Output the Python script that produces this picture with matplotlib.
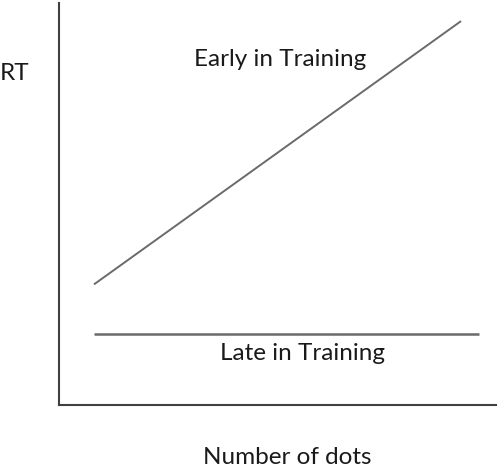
import matplotlib
matplotlib.use("Agg")
import matplotlib.pyplot as plt

# Data (arbitrary units)
early_dots = [0.8, 9.2]
early_rt = [3.0, 9.55]
late_dots = [0.8, 9.6]
late_rt = [1.77, 1.77]

W, H = 500, 470
fig = plt.figure(figsize=(W / 100, H / 100), dpi=100)
ax = fig.add_axes([59 / W, 1 - 405 / H, (496 - 59) / W, (405 - 3) / H])
ax.set_xlim(0, 10)
ax.set_ylim(0, 10)

ax.plot(early_dots, early_rt, color="#6a6a6a", lw=1.4, solid_capstyle="butt")
ax.plot(late_dots, late_rt, color="#6a6a6a", lw=1.8, solid_capstyle="butt")

for s in ["top", "right"]:
    ax.spines[s].set_visible(False)
for s in ["left", "bottom"]:
    ax.spines[s].set_color("#404040")
    ax.spines[s].set_linewidth(1.5)
ax.set_xticks([])
ax.set_yticks([])

font = dict(family=["Lato", "DejaVu Sans"], color="#1a1a1a", fontsize=17.5)
fig.text(15 / W, 1 - 73 / H, "RT", ha="center", va="center", **font)
fig.text(280 / W, 1 - 59 / H, "Early in Training", ha="center", va="center", **font)
fig.text(302 / W, 1 - 354 / H, "Late in Training", ha="center", va="center", **font)
fig.text(287 / W, 1 - 458 / H, "Number of dots", ha="center", va="center", **font)

fig.savefig("out.png", dpi=100)
